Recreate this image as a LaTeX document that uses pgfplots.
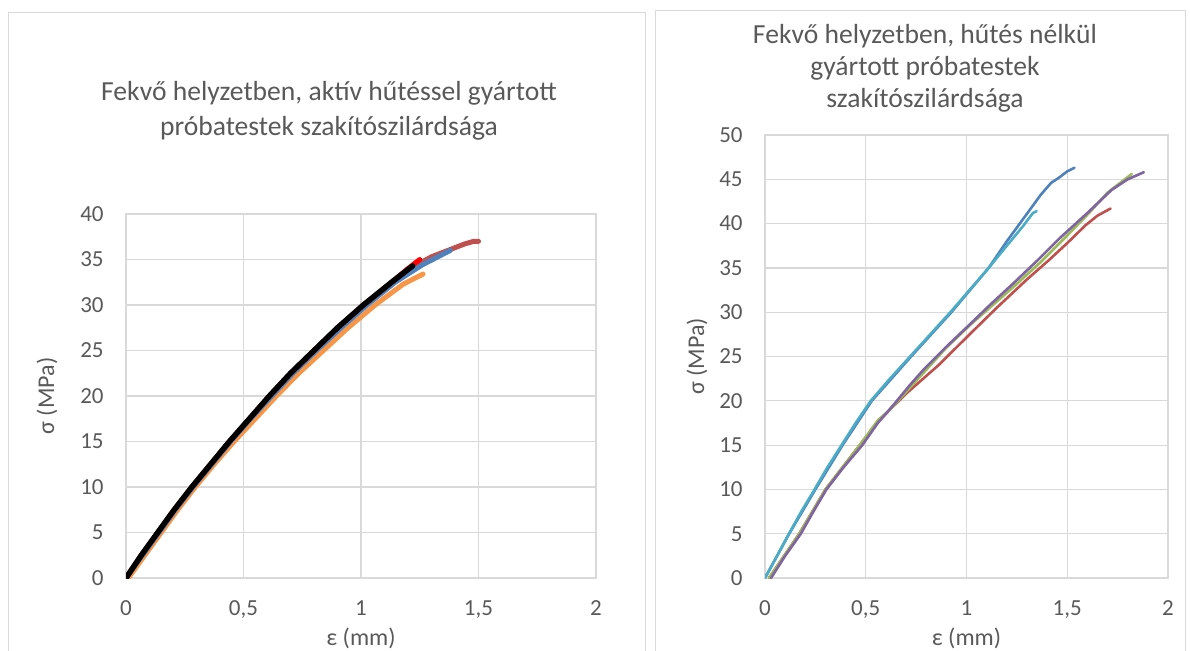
\documentclass[border=0pt]{standalone}
\usepackage{fontspec}
\setmainfont{Carlito}
\usepackage{pgfplots}
\pgfplotsset{compat=1.18}

\definecolor{gridgray}{HTML}{D9D9D9}
\definecolor{txtgray}{HTML}{595959}
\definecolor{xlblue}{HTML}{4F81BD}
\definecolor{xlred}{HTML}{C0504D}
\definecolor{xlgreen}{HTML}{9BBB59}
\definecolor{xlpurple}{HTML}{8064A2}
\definecolor{xlaqua}{HTML}{4BACC6}
\definecolor{xlorange}{HTML}{F79646}

\pgfplotsset{
  excel/.style={
    scale only axis,
    anchor=south west,
    xmin=0, xmax=2,
    xtick={0,0.5,...,2},
    grid=major,
    major grid style={gridgray, line width=0.6pt},
    axis line style={gridgray, line width=0.6pt},
    major tick length=0pt,
    /pgf/number format/.cd, use comma, assume math mode=true,
    /pgfplots/.cd,
    tick label style={txtgray, font=\fontsize{11.5}{13}\selectfont},
    yticklabel style={anchor=east, inner sep=0pt, xshift=-11pt},
    xticklabel style={anchor=north, inner sep=0pt, yshift=-11pt},
    label style={txtgray, font=\fontsize{12}{14}\selectfont},
    xlabel={ε (mm)},
    ylabel={σ (MPa)},
    xlabel style={at={(axis description cs:0.5,0)}, anchor=center, yshift=-30pt},
    every axis plot/.append style={no marks, line join=round, line cap=round},
  }
}

\begin{document}
\begin{tikzpicture}
\useasboundingbox (0,0) rectangle (595pt,325pt);
% chart frames
\draw[gridgray, line width=0.5pt] (4pt,-5pt) -- (4pt,319pt) -- (322.5pt,319pt) -- (322.5pt,-5pt);
\draw[gridgray, line width=0.5pt] (327.5pt,-5pt) -- (327.5pt,320pt) -- (592.5pt,320pt) -- (592.5pt,-5pt);

% left: with active cooling
\begin{axis}[excel, at={(63pt,36pt)}, width=235pt, height=182pt,
  ymin=0, ymax=40, ytick={0,5,...,40},
  ylabel style={at={(axis description cs:0,0.5)}, anchor=center, yshift=39.5pt}]
\addplot[xlred, line width=2.5pt] coordinates {
  (0,0) (0.07,2.5) (0.14,5) (0.21,7.5) (0.285,10) (0.365,12.5) (0.445,15)
  (0.53,17.5) (0.615,20) (0.705,22.5) (0.805,25) (0.905,27.5) (1.015,30)
  (1.135,32.5) (1.25,34.6) (1.3,35.3) (1.38,36.1) (1.44,36.7) (1.48,37.0) (1.5,37.0)};
\addplot[xlorange, line width=2.5pt] coordinates {
  (0.01,0) (0.08,2.5) (0.15,5) (0.22,7.5) (0.295,10) (0.375,12.5) (0.46,15)
  (0.55,17.5) (0.64,20) (0.735,22.5) (0.84,25) (0.945,27.5) (1.06,30)
  (1.18,32.3) (1.264,33.4)};
\addplot[xlblue, line width=2.5pt] coordinates {
  (0,0) (0.07,2.5) (0.14,5) (0.21,7.5) (0.285,10) (0.365,12.5) (0.445,15)
  (0.53,17.5) (0.62,20) (0.71,22.5) (0.81,25) (0.915,27.5) (1.025,30)
  (1.145,32.5) (1.26,34.4) (1.32,35.2) (1.38,36.0)};
\addplot[red, line width=2.5pt] coordinates {
  (0,0) (0.065,2.5) (0.135,5) (0.205,7.5) (0.28,10) (0.36,12.5) (0.44,15)
  (0.525,17.5) (0.61,20) (0.7,22.5) (0.8,25) (0.9,27.5) (1.01,30)
  (1.13,32.5) (1.2,34.0) (1.25,35.0)};
\addplot[black, line width=2.7pt] coordinates {
  (0,0) (0.065,2.5) (0.135,5) (0.205,7.5) (0.28,10) (0.36,12.5) (0.44,15)
  (0.525,17.5) (0.61,20) (0.7,22.5) (0.8,25) (0.9,27.5) (1.01,30)
  (1.13,32.5) (1.22,34.3)};
\end{axis}
\node[txtgray, align=center, font=\fontsize{13.8}{17.5}\selectfont] at (164.5pt,269.5pt)
  {Fekvő helyzetben, aktív hűtéssel gyártott\\próbatestek szakítószilárdsága};

% right: without cooling
\begin{axis}[excel, at={(382.5pt,36pt)}, width=201.5pt, height=221.5pt,
  ymin=0, ymax=50, ytick={0,5,...,50},
  ylabel style={at={(axis description cs:0,0.5)}, anchor=center, yshift=34pt}]
\addplot[xlred, line width=1.3pt] coordinates {
  (0.02,0) (0.17,5) (0.3,10) (0.47,15) (0.56,17.6) (0.62,19) (0.7,20.8)
  (0.86,24) (1.02,27.6) (1.15,30.5) (1.3,33.7) (1.41,35.9) (1.5,37.8)
  (1.59,39.8) (1.65,40.9) (1.715,41.7)};
\addplot[xlgreen, line width=1.3pt] coordinates {
  (0.02,0) (0.17,5) (0.3,10) (0.47,15) (0.56,17.8) (0.62,19) (0.7,21)
  (0.8,23.5) (0.9,26.0) (1.02,28.6) (1.13,30.8) (1.25,33.2) (1.37,35.7)
  (1.48,38.2) (1.6,41) (1.7,43.5) (1.82,45.6)};
\addplot[xlpurple, line width=1.3pt] coordinates {
  (0.03,0) (0.1,2.5) (0.178,5) (0.24,7.5) (0.305,10) (0.39,12.5) (0.483,15)
  (0.56,17.5) (0.64,19.6) (0.72,21.8) (0.79,23.6) (0.9,26.1) (1.02,28.7)
  (1.12,30.9) (1.23,33.2) (1.35,35.8) (1.46,38.3) (1.6,41.2) (1.72,43.8)
  (1.8,45) (1.88,45.8)};
\addplot[xlblue, line width=1.3pt] coordinates {
  (0,0) (0.12,5) (0.25,10) (0.385,15) (0.53,20) (0.725,25) (0.925,30)
  (1.11,35) (1.2,38) (1.29,40.8) (1.37,43.3) (1.42,44.6) (1.46,45.2)
  (1.5,45.9) (1.536,46.3)};
\addplot[xlaqua, line width=1.3pt] coordinates {
  (0,0) (0.06,2.5) (0.119,5) (0.18,7.5) (0.246,10) (0.31,12.5) (0.38,15)
  (0.45,17.5) (0.525,20) (0.62,22.5) (0.72,25) (0.82,27.5) (0.92,30)
  (1.015,32.5) (1.11,35) (1.2,37.5) (1.28,39.7) (1.33,41.2) (1.348,41.4)};
\end{axis}
\node[txtgray, align=center, font=\fontsize{13.8}{16}\selectfont] at (462.5pt,291pt)
  {Fekvő helyzetben, hűtés nélkül\\gyártott próbatestek\\szakítószilárdsága};
\end{tikzpicture}
\end{document}
